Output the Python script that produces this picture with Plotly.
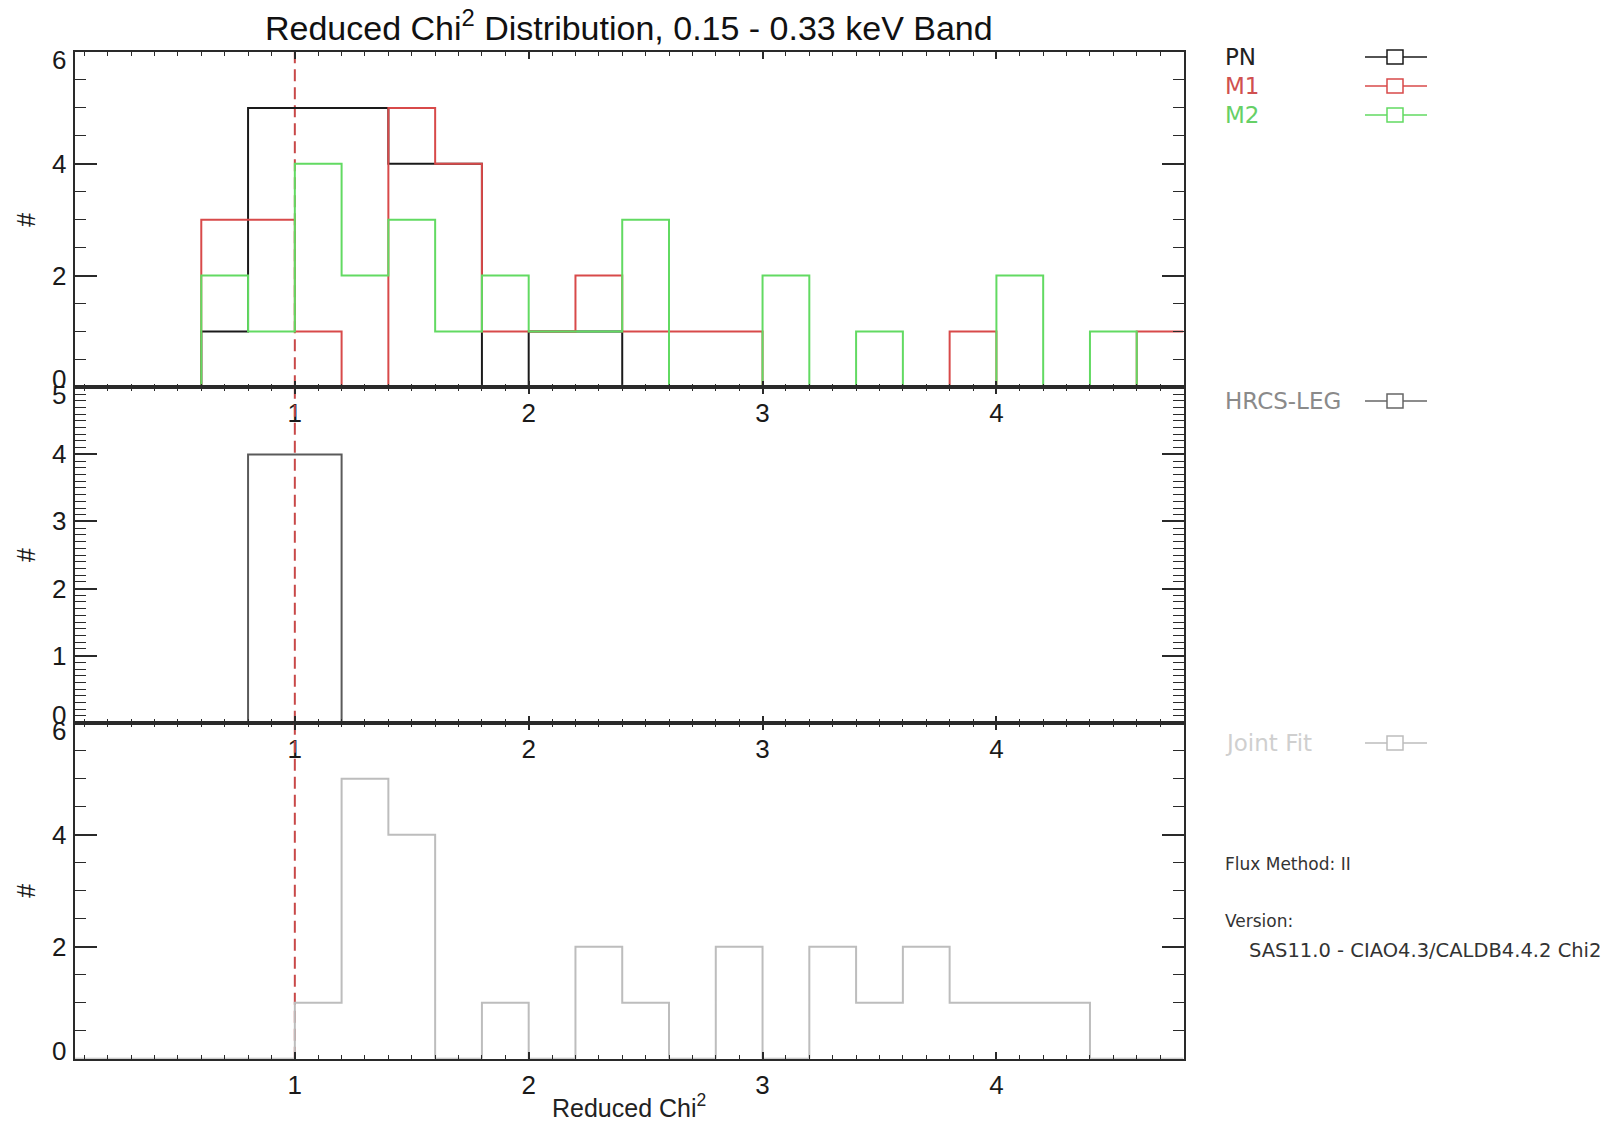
import numpy as np
import plotly.graph_objects as go

# ---- data -------------------------------------------------------------
# Reduced chi^2 histograms, 0.2-wide bins from 0.0 to 4.8
bin_start = 0.0
bin_width = 0.2
n_bins = 24

pn_counts    = [0, 0, 0, 1, 5, 5, 5, 4, 4, 0, 1, 1, 0, 0, 0, 0, 0, 0, 0, 0, 0, 0, 0, 0]
m1_counts    = [0, 0, 0, 3, 3, 1, 0, 5, 4, 1, 1, 2, 1, 1, 1, 0, 0, 0, 0, 1, 0, 0, 0, 1]
m2_counts    = [0, 0, 0, 2, 1, 4, 2, 3, 1, 2, 1, 1, 3, 0, 0, 2, 0, 1, 0, 0, 2, 0, 1, 0]
hrcs_counts  = [0, 0, 0, 0, 4, 4, 0, 0, 0, 0, 0, 0, 0, 0, 0, 0, 0, 0, 0, 0, 0, 0, 0, 0]
joint_counts = [0, 0, 0, 0, 0, 1, 5, 4, 0, 1, 0, 2, 1, 0, 2, 0, 2, 1, 2, 1, 1, 1, 0, 0]

reference_chi2 = 1.0

x_tick_vals = [1, 2, 3, 4]
top_y_ticks = [0, 2, 4, 6]
mid_y_ticks = [0, 1, 2, 3, 4, 5]
bot_y_ticks = [0, 2, 4, 6]

info_lines = ["Flux Method: II", "Version:", "SAS11.0 - CIAO4.3/CALDB4.4.2 Chi2"]

# ---- styling ----------------------------------------------------------
W, H = 1606, 1125
FONT = "Liberation Sans, Arial, Helvetica, sans-serif"
LEG_FONT = "DejaVu Sans, Verdana, sans-serif"
AXC = "#2a2a2a"
TXT = "#1a1a1a"
C_PN, C_M1, C_M2 = "#1a1a1a", "#d84a4a", "#62da62"
C_HRCS, C_JOINT = "#5a5a5a", "#bdbdbd"
C_DASH = "#c84848"
TICK_SIZE = 26


def px(x):
    return x / W


def py(y):
    return 1 - y / H


x_left, x_right = px(75), px(1183.5)
panel_px = [(52, 387.3), (387.3, 722.7), (722.7, 1058.7)]
domains = [[py(b), py(t)] for t, b in panel_px]

edges = bin_start + bin_width * np.arange(n_bins + 1)


def step_trace(counts, color, xa, ya, name):
    y = list(counts) + [counts[-1]]
    return go.Scatter(x=edges, y=y, mode="lines", line=dict(color=color, width=2, shape="hv"),
                      xaxis=xa, yaxis=ya, name=name, showlegend=False, hoverinfo="skip")


def dash_trace(xa, ya, top):
    return go.Scatter(x=[reference_chi2, reference_chi2], y=[0, top], mode="lines",
                      line=dict(color=C_DASH, width=2, dash="12px,6px"),
                      xaxis=xa, yaxis=ya, showlegend=False, hoverinfo="skip")


fig = go.Figure()
# top panel: EPIC cameras
fig.add_trace(dash_trace("x", "y", 6))
fig.add_trace(step_trace(pn_counts, C_PN, "x", "y", "PN"))
fig.add_trace(step_trace(m1_counts, C_M1, "x", "y", "M1"))
fig.add_trace(step_trace(m2_counts, C_M2, "x", "y", "M2"))
# middle panel: HRC-S/LETG
fig.add_trace(dash_trace("x2", "y2", 5))
fig.add_trace(step_trace(hrcs_counts, C_HRCS, "x2", "y2", "HRCS-LEG"))
# bottom panel: joint fit
fig.add_trace(dash_trace("x3", "y3", 6))
fig.add_trace(step_trace(joint_counts, C_JOINT, "x3", "y3", "Joint Fit"))


def xaxis_cfg(anchor):
    return dict(domain=[x_left, x_right], range=[0.06, 4.8], anchor=anchor,
                tickvals=x_tick_vals, ticks="inside", ticklen=7, tickwidth=1.5, tickcolor=AXC,
                minor=dict(dtick=0.1, tick0=0, ticks="inside", ticklen=4, tickwidth=1, tickcolor=AXC),
                showline=True, linewidth=1.6, linecolor=AXC, mirror="ticks",
                showgrid=False, zeroline=False, ticklabelstandoff=2,
                tickfont=dict(family=FONT, size=TICK_SIZE, color=TXT))


def yaxis_cfg(anchor, dom, rng, ticks, minor_dt):
    return dict(domain=dom, range=rng, anchor=anchor, tickvals=ticks,
                ticks="inside", ticklen=22, tickwidth=1.5, tickcolor=AXC,
                minor=dict(dtick=minor_dt, tick0=0, ticks="inside", ticklen=11, tickwidth=1, tickcolor=AXC),
                showline=True, linewidth=1.6, linecolor=AXC, mirror="ticks",
                showgrid=False, zeroline=False, showticklabels=False)


annotations = []
shapes = []

panels = [("y", top_y_ticks), ("y2", mid_y_ticks), ("y3", bot_y_ticks)]
for (ya, ticks), (t, b) in zip(panels, panel_px):
    # y tick labels, end labels nudged inward
    for v in ticks:
        shift = -8 if v == max(ticks) else (8 if v == 0 else 0)
        annotations.append(dict(x=px(68), xref="paper", xanchor="right", y=v, yref=ya,
                                yanchor="middle", yshift=shift, text=str(v), showarrow=False,
                                font=dict(family=FONT, size=TICK_SIZE, color=TXT)))
    annotations.append(dict(x=px(26), xref="paper", xanchor="center", y=py((t + b) / 2),
                            yref="paper", yanchor="middle", text="#", textangle=-90,
                            showarrow=False, font=dict(family=FONT, size=25, color=TXT)))

# title and x title
annotations.append(dict(x=(x_left + x_right) / 2, y=py(26), xref="paper", yref="paper",
                        xanchor="center", yanchor="middle",
                        text="Reduced Chi<sup>2</sup> Distribution, 0.15 - 0.33 keV Band",
                        showarrow=False, font=dict(family=FONT, size=34, color="#111")))
annotations.append(dict(x=(x_left + x_right) / 2, y=py(1106), xref="paper", yref="paper",
                        xanchor="center", yanchor="middle",
                        text="Reduced Chi<sup>2</sup>", showarrow=False,
                        font=dict(family=FONT, size=25, color="#222")))

# legend entries: label followed by line-with-square symbol
legend_entries = [("PN", "#222222", C_PN, 57), ("M1", "#d05050", C_M1, 86),
                  ("M2", "#66d066", C_M2, 115),
                  ("HRCS-LEG", "#8a8a8a", "#666666", 401), ("Joint Fit", "#cfcfcf", "#bdbdbd", 743)]
for label, tcol, scol, yc in legend_entries:
    annotations.append(dict(x=px(1223), y=py(yc), xref="paper", yref="paper", xanchor="left",
                            yanchor="middle", text=label, showarrow=False,
                            font=dict(family=LEG_FONT, size=23, color=tcol)))
    shapes.append(dict(type="line", xref="paper", yref="paper", x0=px(1365), x1=px(1427),
                       y0=py(yc), y1=py(yc), line=dict(color=scol, width=1.5)))
    shapes.append(dict(type="rect", xref="paper", yref="paper", x0=px(1387), x1=px(1403),
                       y0=py(yc + 7), y1=py(yc - 7), line=dict(color=scol, width=1.5),
                       fillcolor="white"))

for text, xpos, yc, fs in zip(info_lines, [1223, 1223, 1247], [864, 921, 950], [17, 17, 19.5]):
    annotations.append(dict(x=px(xpos), y=py(yc), xref="paper", yref="paper", xanchor="left",
                            yanchor="middle", text=text, showarrow=False,
                            font=dict(family=LEG_FONT, size=fs, color="#333")))

fig.update_layout(
    width=W, height=H, margin=dict(l=0, r=0, t=0, b=0),
    paper_bgcolor="white", plot_bgcolor="white",
    xaxis=xaxis_cfg("y"), xaxis2=xaxis_cfg("y2"), xaxis3=xaxis_cfg("y3"),
    yaxis=yaxis_cfg("x", domains[0], [0, 6], top_y_ticks, 0.5),
    yaxis2=yaxis_cfg("x2", domains[1], [0, 5], mid_y_ticks, 0.1),
    yaxis3=yaxis_cfg("x3", domains[2], [0, 6], bot_y_ticks, 0.5),
    annotations=annotations, shapes=shapes, showlegend=False,
)

fig.write_html("out.html")
